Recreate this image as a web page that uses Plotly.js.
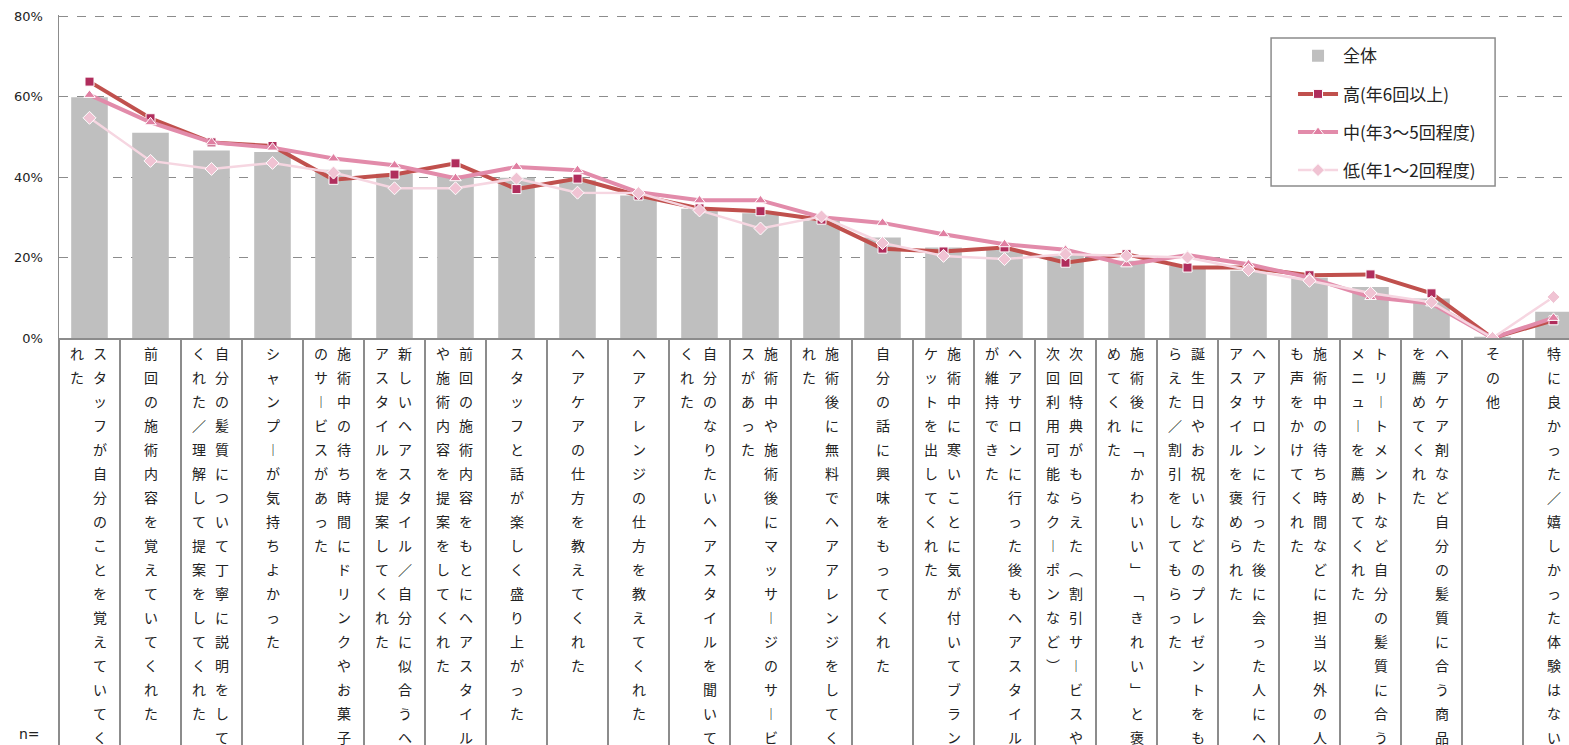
<!DOCTYPE html>
<html>
<head>
<meta charset="utf-8">
<script src="https://cdn.plot.ly/plotly-3.0.1.min.js"></script>
<style>
html, body { margin: 0; padding: 0; overflow: hidden; background: #fff; width: 1569px; height: 745px; }
#chart { width: 1600px; height: 1000px; }
</style>
</head>
<body>
<div id="chart"></div>
<script>
const categories = [
  "スタッフが自分のことを覚えていてくれた",
  "前回の施術内容を覚えていてくれた",
  "自分の髪質について丁寧に説明をしてくれた／理解して提案をしてくれた",
  "シャンプーが気持ちよかった",
  "施術中の待ち時間にドリンクやお菓子のサービスがあった",
  "新しいヘアスタイル／自分に似合うヘアスタイルを提案してくれた",
  "前回の施術内容をもとにヘアスタイルや施術内容を提案をしてくれた",
  "スタッフと話が楽しく盛り上がった",
  "ヘアケアの仕方を教えてくれた",
  "ヘアアレンジの仕方を教えてくれた",
  "自分のなりたいヘアスタイルを聞いてくれた",
  "施術中や施術後にマッサージのサービスがあった",
  "施術後に無料でヘアアレンジをしてくれた",
  "自分の話に興味をもってくれた",
  "施術中に寒いことに気が付いてブランケットを出してくれた",
  "ヘアサロンに行った後もヘアスタイルが維持できた",
  "次回特典がもらえた（割引サービスや次回利用可能なクーポンなど）",
  "施術後に「かわいい」「きれい」と褒めてくれた",
  "誕生日やお祝いなどのプレゼントをもらえた／割引をしてもらった",
  "ヘアサロンに行った後に会った人にヘアスタイルを褒められた",
  "施術中の待ち時間などに担当以外の人も声をかけてくれた",
  "トリートメントなど自分の髪質に合うメニューを薦めてくれた",
  "ヘアケア剤など自分の髪質に合う商品を薦めてくれた",
  "その他",
  "特に良かった／嬉しかった体験はない"
];
const seriesNames = ["全体", "高(年6回以上)", "中(年3～5回程度)", "低(年1～2回程度)"];
const total = [59.8, 51.0, 46.6, 46.2, 41.8, 40.8, 40.4, 39.8, 39.2, 35.4, 32.1, 31.0, 29.2, 25.0, 22.5, 21.9, 20.6, 19.2, 17.9, 16.7, 15.0, 12.7, 9.8, 0.3, 6.5];
const high  = [63.7, 54.6, 48.6, 47.7, 39.3, 40.6, 43.4, 37.0, 39.6, 35.4, 32.2, 31.5, 29.4, 22.2, 21.5, 22.5, 18.7, 20.8, 17.5, 17.5, 15.6, 15.8, 11.1, 0.0, 4.4];
const mid   = [60.4, 53.6, 48.6, 47.3, 44.6, 42.9, 39.7, 42.5, 41.7, 36.2, 34.2, 34.2, 30.0, 28.6, 25.8, 23.3, 21.9, 18.3, 20.6, 18.3, 15.0, 10.2, 8.6, 0.0, 5.0];
const low   = [54.7, 44.0, 42.0, 43.5, 41.1, 37.2, 37.2, 39.6, 36.1, 36.0, 31.7, 27.2, 30.2, 23.6, 20.4, 19.6, 20.8, 20.4, 20.0, 16.9, 14.2, 11.2, 8.9, 0.0, 10.2];
const yTicks = [0, 20, 40, 60, 80];

const JP = '"Noto Sans CJK JP", "Noto Sans", sans-serif';
const verticalForms = {"ー": "︱", "（": "︵", "）": "︶", "「": "﹁", "」": "﹂"};

const traces = [
  {type: 'bar', name: seriesNames[0], x: categories, y: total, legendgroup: 'a',
   marker: {color: '#BFBFBF'}, width: 0.6},
  {type: 'scatter', mode: 'lines+markers', name: seriesNames[1], x: categories, y: high, legendgroup: 'b',
   line: {color: '#C0504D', width: 4},
   marker: {symbol: 'square', size: 9, color: '#B02D5C', line: {color: '#fff', width: 1}}},
  {type: 'scatter', mode: 'lines+markers', name: seriesNames[2], x: categories, y: mid, legendgroup: 'c',
   line: {color: '#E28BAA', width: 4},
   marker: {symbol: 'triangle-up', size: 10, color: '#E07FA2', line: {color: '#fff', width: 1}}},
  {type: 'scatter', mode: 'lines+markers', name: seriesNames[3], x: categories, y: low, legendgroup: 'd',
   line: {color: '#F6D6E1', width: 2.5},
   marker: {symbol: 'diamond', size: 10, color: '#F0C3D3', line: {color: '#fff', width: 1}}}
];

// vertical category labels, 17 characters per column, columns right-to-left
const annotations = [];
const PER_COL = 17;
categories.forEach((cat, ci) => {
  const chars = Array.from(cat);
  const cols = [];
  for (let i = 0; i < chars.length; i += PER_COL) cols.push(chars.slice(i, i + PER_COL));
  const shifts = cols.length === 1 ? [0] : [10, -13];
  cols.forEach((col, k) => {
    col.forEach((ch, r) => {
      annotations.push({
        xref: 'x', yref: 'paper', x: ci, y: 0,
        xanchor: 'center', yanchor: 'middle',
        xshift: shifts[k], yshift: -(15 + 24 * r),
        text: verticalForms[ch] || ch, showarrow: false,
        font: {family: JP, size: 14, color: '#222'}
      });
    });
  });
});
annotations.push({
  xref: 'paper', yref: 'paper', x: 0, y: 0, xanchor: 'center', yanchor: 'middle',
  xshift: -30, yshift: -396, text: 'n=', showarrow: false,
  font: {family: 'DejaVu Sans, sans-serif', size: 14, color: '#222'}
});

const layout = {
  width: 1600, height: 1000,
  margin: {l: 59, r: 16, t: 15, b: 662, pad: 0},
  paper_bgcolor: '#fff', plot_bgcolor: '#fff',
  showlegend: true,
  bargap: 0.4,
  xaxis: {
    type: 'category', range: [-0.5, categories.length - 0.5], autorange: false,
    showticklabels: false,
    ticks: 'outside', tickson: 'boundaries', ticklen: 420, tickcolor: '#8c8c8c', tickwidth: 1.5,
    showline: true, linecolor: '#8c8c8c', linewidth: 1.5, showgrid: false, zeroline: false,
    fixedrange: true
  },
  yaxis: {
    range: [0, 80.25], autorange: false, tickvals: yTicks, ticktext: yTicks.map(v => v + '%'),
    showline: true, linecolor: '#8c8c8c', linewidth: 1.5,
    showgrid: true, gridcolor: '#8c8c8c', gridwidth: 1, griddash: 'dash',
    zeroline: false, ticks: '', ticklabelstandoff: 12,
    tickfont: {family: 'DejaVu Sans, sans-serif', size: 13, color: '#222'},
    fixedrange: true
  },
  legend: {
    x: 0.8092, y: 0.928, xanchor: 'left', yanchor: 'top',
    bgcolor: 'rgba(0,0,0,0)', borderwidth: 0,
    font: {family: JP, size: 17, color: '#222'},
    tracegroupgap: 13, itemwidth: 40,
    traceorder: 'grouped'
  },
  shapes: [{
    type: 'rect', xref: 'paper', yref: 'paper',
    x0: 0.7948, x1: 0.9417, y0: 0.4706, y1: 0.9288,
    line: {color: '#8c8c8c', width: 1.5}, fillcolor: '#fff', layer: 'above'
  }],
  annotations: annotations
};

Plotly.newPlot('chart', traces, layout, {staticPlot: true, displayModeBar: false});
</script>
</body>
</html>
